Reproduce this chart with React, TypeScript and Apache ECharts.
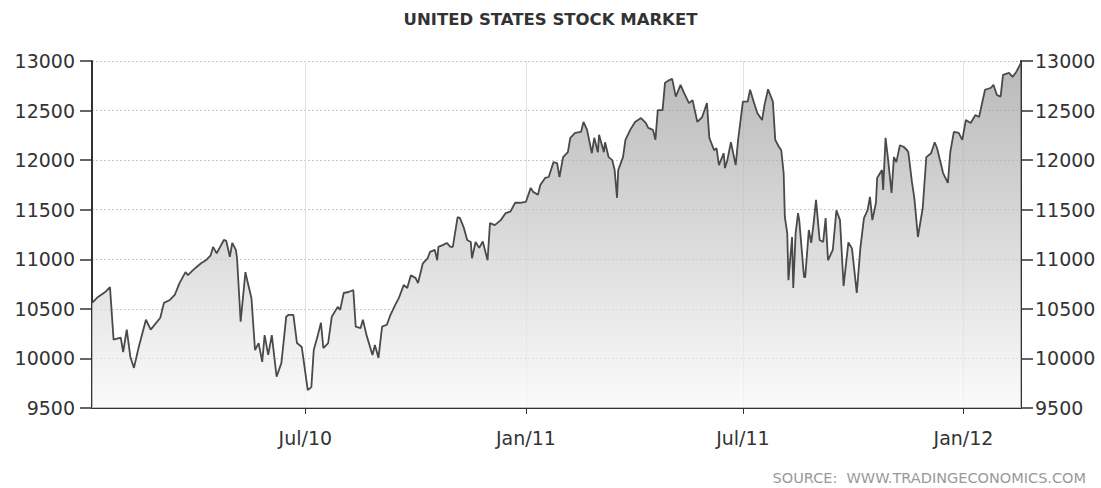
import React, { useEffect, useRef } from "react";
import * as echarts from "echarts";

const titleText = "UNITED STATES STOCK MARKET";
const sourceText = "SOURCE:  WWW.TRADINGECONOMICS.COM";

const dates = [
  "2010-01-04","2010-01-09","2010-01-15","2010-01-19","2010-01-22","2010-01-28","2010-01-30","2010-02-02","2010-02-05","2010-02-08",
  "2010-02-12","2010-02-18","2010-02-22","2010-03-02","2010-03-05","2010-03-10","2010-03-14","2010-03-18","2010-03-23","2010-03-25",
  "2010-03-31","2010-04-05","2010-04-09","2010-04-13","2010-04-15","2010-04-18","2010-04-24","2010-04-26","2010-04-29","2010-05-01",
  "2010-05-04","2010-05-05","2010-05-08","2010-05-12","2010-05-14","2010-05-17","2010-05-20","2010-05-23","2010-05-26","2010-05-28",
  "2010-05-31","2010-06-03","2010-06-07","2010-06-11","2010-06-13","2010-06-15","2010-06-17","2010-06-21","2010-06-24","2010-06-28",
  "2010-07-03","2010-07-06","2010-07-08","2010-07-11","2010-07-14","2010-07-16","2010-07-20","2010-07-23","2010-07-28","2010-07-30",
  "2010-08-02","2010-08-06","2010-08-10","2010-08-12","2010-08-16","2010-08-18","2010-08-21","2010-08-26","2010-08-28","2010-08-31",
  "2010-09-03","2010-09-07","2010-09-10","2010-09-14","2010-09-17","2010-09-21","2010-09-24","2010-09-27","2010-10-01","2010-10-03",
  "2010-10-07","2010-10-11","2010-10-13","2010-10-17","2010-10-19","2010-10-20","2010-10-24","2010-10-27","2010-10-30","2010-11-01",
  "2010-11-05","2010-11-07","2010-11-10","2010-11-13","2010-11-16","2010-11-17","2010-11-20","2010-11-23","2010-11-26","2010-11-30",
  "2010-12-02","2010-12-06","2010-12-11","2010-12-15","2010-12-19","2010-12-23","2010-12-27","2011-01-01","2011-01-05","2011-01-07",
  "2011-01-11","2011-01-13","2011-01-17","2011-01-20","2011-01-24","2011-01-27","2011-01-29","2011-02-01","2011-02-05","2011-02-07",
  "2011-02-11","2011-02-16","2011-02-18","2011-02-21","2011-02-25","2011-02-27","2011-03-02","2011-03-03","2011-03-07","2011-03-08",
  "2011-03-11","2011-03-14","2011-03-16","2011-03-18","2011-03-19","2011-03-23","2011-03-25","2011-03-29","2011-04-02","2011-04-07",
  "2011-04-11","2011-04-13","2011-04-17","2011-04-19","2011-04-21","2011-04-25","2011-04-27","2011-05-01","2011-05-03","2011-05-06",
  "2011-05-10","2011-05-13","2011-05-17","2011-05-20","2011-05-24","2011-05-28","2011-06-01","2011-06-03","2011-06-07","2011-06-09",
  "2011-06-11","2011-06-15","2011-06-16","2011-06-18","2011-06-21","2011-06-25","2011-06-27","2011-07-01","2011-07-05","2011-07-07",
  "2011-07-10","2011-07-13","2011-07-17","2011-07-19","2011-07-22","2011-07-26","2011-07-28","2011-07-31","2011-08-02","2011-08-04",
  "2011-08-05","2011-08-07","2011-08-08","2011-08-11","2011-08-12","2011-08-14","2011-08-16","2011-08-17","2011-08-21","2011-08-22",
  "2011-08-25","2011-08-27","2011-08-29","2011-08-31","2011-09-03","2011-09-06","2011-09-08","2011-09-10","2011-09-14","2011-09-17",
  "2011-09-20","2011-09-23","2011-09-27","2011-09-30","2011-10-04","2011-10-07","2011-10-10","2011-10-13","2011-10-15","2011-10-17",
  "2011-10-20","2011-10-21","2011-10-25","2011-10-26","2011-10-28","2011-10-30","2011-11-02","2011-11-04","2011-11-06","2011-11-09",
  "2011-11-12","2011-11-15","2011-11-16","2011-11-19","2011-11-21","2011-11-24","2011-11-28","2011-12-01","2011-12-05","2011-12-08",
  "2011-12-10","2011-12-15","2011-12-19","2011-12-21","2011-12-24","2011-12-28","2011-12-31","2012-01-03","2012-01-07","2012-01-11",
  "2012-01-14","2012-01-19","2012-01-24","2012-01-26","2012-01-29","2012-02-01","2012-02-03","2012-02-08","2012-02-11","2012-02-14",
  "2012-02-18",
];

const values = [
  10560,10620,10670,10720,10190,10210,10065,10290,10015,9905,
  10115,10390,10290,10410,10560,10590,10640,10760,10870,10840,
  10910,10960,10990,11040,11125,11060,11195,11185,11025,11165,
  11095,11010,10370,10870,10760,10610,10085,10155,9965,10235,
  10035,10235,9815,9955,10185,10420,10440,10440,10155,10115,
  9680,9710,10085,10215,10360,10105,10155,10420,10520,10490,
  10660,10670,10690,10320,10305,10390,10235,10035,10135,10005,
  10320,10340,10440,10540,10610,10740,10710,10840,10810,10760,
  10960,11010,11075,11095,10990,11125,11145,11165,11125,11125,
  11425,11415,11325,11195,11175,11010,11175,11115,11180,10990,
  11365,11345,11395,11465,11480,11570,11570,11580,11720,11680,
  11650,11750,11820,11830,11980,11970,11830,12030,12080,12225,
  12275,12285,12385,12305,12070,12225,12080,12255,12080,12180,
  12030,12000,11900,11620,11900,12030,12205,12305,12385,12425,
  12375,12325,12305,12205,12505,12505,12780,12810,12820,12640,
  12760,12675,12575,12605,12385,12435,12575,12225,12100,12120,
  11950,12070,11920,12000,12180,11950,12205,12590,12590,12710,
  12590,12475,12405,12555,12715,12590,12205,12135,12100,11870,
  11425,11265,10790,11225,10710,11265,11465,11395,10820,10820,
  11295,11165,11365,11600,11195,11175,11415,10990,11095,11495,
  11395,10730,11170,11110,10660,11115,11415,11495,11630,11395,
  11570,11820,11900,11700,12225,12020,11670,12030,11980,12150,
  12135,12100,12080,11780,11620,11225,11515,12030,12070,12180,
  12120,11870,11770,12080,12285,12275,12205,12405,12375,12455,
  12435,12710,12730,12760,12655,12640,12860,12880,12840,12890,
  12980,
];

const xStart = "2010-01-04";
const xEnd = "2012-02-18";
const xTickDates = ["2010-07-01", "2011-01-01", "2011-07-01", "2012-01-01"];
const xTickLabels = ["Jul/10", "Jan/11", "Jul/11", "Jan/12"];
const yMin = 9500;
const yMax = 13000;
const yStep = 500;

function toTime(s: string): number {
  const [y, m, d] = s.split("-").map(Number);
  return Date.UTC(y, m - 1, d);
}

const FONT = "DejaVu Sans";

export default function App() {
  const ref = useRef<HTMLDivElement>(null);
  useEffect(() => {
    document.body.style.margin = "0";
    if (!ref.current) return;
    const chart = echarts.init(ref.current, null, { renderer: "svg" });
    const tickTimes = xTickDates.map(toTime);
    const yAxisCommon = {
      type: "value" as const,
      min: yMin,
      max: yMax,
      interval: yStep,
      axisLine: { show: true, lineStyle: { color: "#333", width: 2 } },
      axisTick: { show: true, length: 12, lineStyle: { color: "#333", width: 1.5 } },
    };
    const yLabel = (margin: number) => ({
      color: "#333",
      fontFamily: FONT,
      fontSize: 19,
      margin,
      formatter: (v: number) => String(v),
    });
    chart.setOption({
      animation: false,
      backgroundColor: "#fff",
      title: {
        text: titleText,
        left: "center",
        top: 6,
        textStyle: { fontFamily: FONT, fontSize: 16.5, fontWeight: "bold", color: "#333" },
      },
      graphic: [
        {
          type: "text",
          right: 15,
          bottom: 3,
          style: { text: sourceText, fill: "#999", font: `14.5px "${FONT}"` },
        },
      ],
      grid: { left: 92, right: 80, top: 61, bottom: 80, containLabel: false },
      xAxis: {
        type: "value",
        min: toTime(xStart),
        max: toTime(xEnd),
        axisLine: { show: true, lineStyle: { color: "#333", width: 2 } },
        axisTick: { show: true, length: 6, customValues: tickTimes, lineStyle: { color: "#333" } },
        axisLabel: {
          customValues: tickTimes,
          color: "#333",
          fontFamily: FONT,
          fontSize: 19,
          margin: 20,
          formatter: (v: number) => {
            const i = tickTimes.findIndex((t) => Math.abs(t - v) < 43200000);
            return i >= 0 ? xTickLabels[i] : "";
          },
        },
        splitLine: { show: true, lineStyle: { color: "#e2e2e2", width: 1 } },
      },
      yAxis: [
        {
          ...yAxisCommon,
          position: "left",
          axisLabel: yLabel(17),
          splitLine: { show: true, lineStyle: { color: "#c8c8c8", type: [2, 2], width: 1 } },
        },
        {
          ...yAxisCommon,
          position: "right",
          axisLabel: yLabel(14),
          splitLine: { show: false },
        },
      ],
      series: [
        {
          type: "line",
          yAxisIndex: 0,
          data: dates.map((d, i) => [toTime(d), values[i]]),
          showSymbol: false,
          symbol: "none",
          lineStyle: { color: "#4a4a4a", width: 1.8 },
          areaStyle: {
            origin: "start",
            color: new echarts.graphic.LinearGradient(0, 0, 0, 1, [
              { offset: 0, color: "#9c9c9c" },
              { offset: 1, color: "#f9f9f9" },
            ]),
          },
        },
      ],
    });
    return () => chart.dispose();
  }, []);
  return <div ref={ref} style={{ width: 1101, height: 488 }} />;
}
